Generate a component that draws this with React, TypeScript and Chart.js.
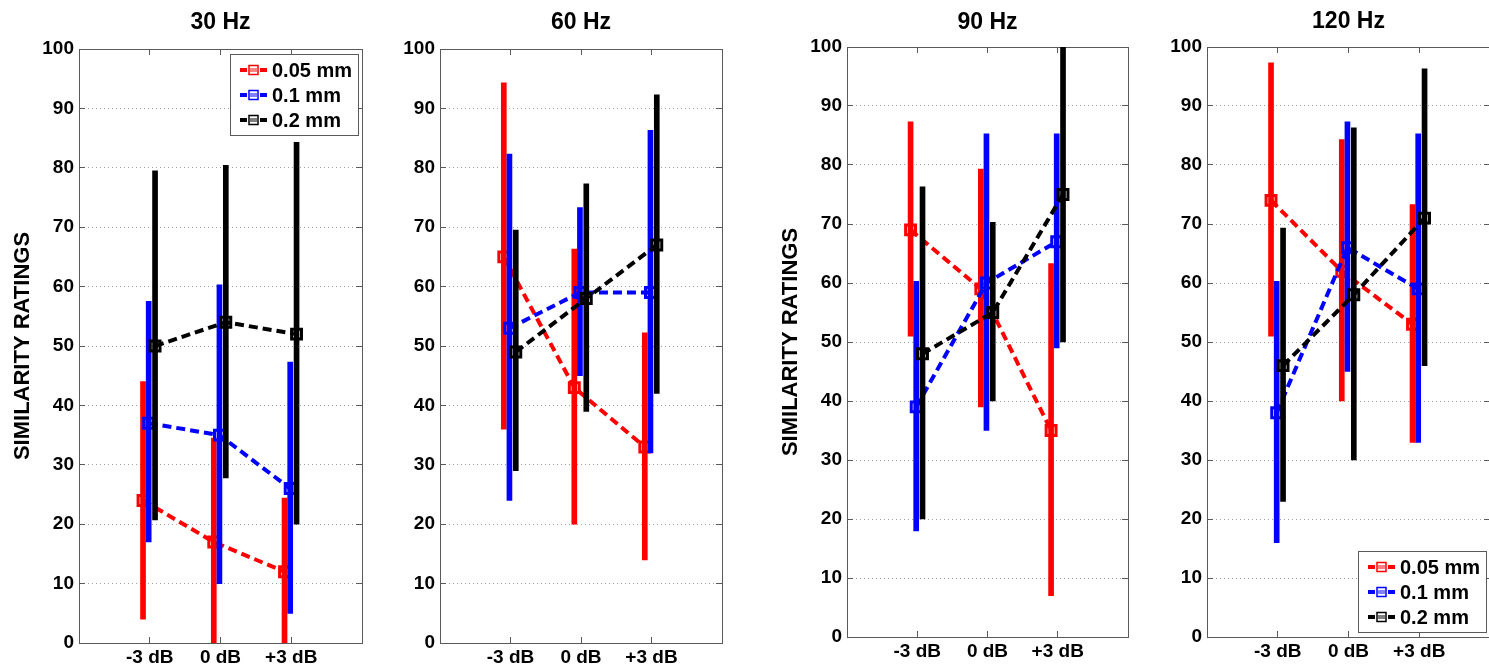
import React, { useEffect, useRef } from 'react';
import { Chart, registerables } from 'chart.js';

Chart.register(...registerables);

const FONT = '"Liberation Sans", Arial, Helvetica, sans-serif';
Chart.defaults.font.family = FONT;

// ---- data ----
const xLabels = ['-3 dB', '0 dB', '+3 dB'];
const categoryPos = [1, 2, 3];
const seriesNames = ['0.05 mm', '0.1 mm', '0.2 mm'];
const seriesColors = ['#ff0000', '#0000ff', '#000000'];
const seriesOffsets = [-0.095, -0.015, 0.075];
const panelTitles = ['30 Hz', '60 Hz', '90 Hz', '120 Hz'];
const yTicksStep = 10;
const yTitle = 'SIMILARITY RATINGS';

// means per series [0.05 mm, 0.1 mm, 0.2 mm] at [-3 dB, 0 dB, +3 dB]
const mean30 = [[24, 17, 12], [37, 35, 26], [50, 54, 52]];
const low30 = [[4, -0.5, -0.4], [17, 10, 5], [20.7, 27.8, 20]];
const high30 = [[44, 34.5, 24.4], [57.5, 60.3, 47.3], [79.5, 80.4, 84.3]];

const mean60 = [[65, 43, 33], [53, 59, 59], [49, 58, 67]];
const low60 = [[36, 20, 14], [24, 45, 32], [29, 39, 42]];
const high60 = [[94.3, 66.3, 52.2], [82.3, 73.3, 86.3], [69.5, 77.3, 92.3]];

const mean90 = [[69, 59, 35], [39, 60, 67], [48, 55, 75]];
const low90 = [[51, 39, 7], [18, 35, 49], [20, 40, 50]];
const high90 = [[87.3, 79.3, 63.3], [60.3, 85.3, 85.3], [76.3, 70.3, 100.5]];

const mean120 = [[74, 62, 53], [38, 66, 59], [46, 58, 71]];
const low120 = [[51, 40, 33], [16, 45, 33], [23, 30, 46]];
const high120 = [[97.3, 84.3, 73.3], [60.3, 87.3, 85.3], [69.3, 86.3, 96.3]];

const panelMeans = [mean30, mean60, mean90, mean120];
const panelLows = [low30, low60, low90, low120];
const panelHighs = [high30, high60, high90, high120];

// ---- layout ----
const canvasLeft = [0, 372, 768, 1138];
const canvasWidth = [372, 360, 370, 362];
const leftAxisW = [79, 68, 79, 69];
const rightAxisW = [6, 6, 5, 5];
const chartTop = [49, 49, 47, 47];
const bottomAxisH = [23, 23, 29, 29];
const titlePadTop = [9, 9, 8.7, 7.7];
const showYTitle = [true, false, true, false];
const legendCorner = ['topRight', '', '', 'bottomRight'];
const CANVAS_H = 666;
const frameColor = '#5a5a5a';

const boxLegendPlugin = {
  id: 'boxLegend',
  afterDraw(chart: any, _args: any, opts: any) {
    if (!opts || !opts.corner) return;
    const ctx = chart.ctx;
    const area = chart.chartArea;
    const items = chart.data.datasets.filter((d: any) => d.type === 'line');
    ctx.save();
    ctx.font = `bold 20px ${FONT}`;
    const textW = Math.max(...items.map((d: any) => ctx.measureText(d.label).width));
    const rowH = 25;
    const padL = 10, symW = 27, gap = 5, padR = 6;
    const w = Math.round(padL + symW + gap + textW + padR);
    const h = rowH * items.length + 6;
    const x0 = Math.round(area.right - 4 - w);
    const y0 = Math.round(opts.corner === 'topRight' ? area.top + 5 : area.bottom - 5 - h);
    ctx.fillStyle = '#ffffff';
    ctx.fillRect(x0, y0, w, h);
    ctx.strokeStyle = frameColor;
    ctx.lineWidth = 1;
    ctx.strokeRect(x0 + 0.5, y0 + 0.5, w, h);
    items.forEach((d: any, i: number) => {
      const cy = y0 + 16 + i * rowH;
      ctx.strokeStyle = d.borderColor;
      ctx.lineWidth = 4;
      ctx.setLineDash([7, 3]);
      ctx.beginPath();
      ctx.moveTo(x0 + padL, cy);
      ctx.lineTo(x0 + padL + symW, cy);
      ctx.stroke();
      ctx.setLineDash([]);
      ctx.lineWidth = 1.5;
      ctx.fillStyle = 'rgba(255,255,255,0.5)';
      ctx.fillRect(x0 + padL + symW / 2 - 4.5, cy - 4.5, 9, 9);
      ctx.strokeRect(x0 + padL + symW / 2 - 4.5, cy - 4.5, 9, 9);
      ctx.fillStyle = '#000';
      ctx.textBaseline = 'middle';
      ctx.textAlign = 'left';
      ctx.fillText(d.label, x0 + padL + symW + gap, cy + 1);
    });
    ctx.restore();
  },
};

function Panel({ idx }: { idx: number }) {
  const ref = useRef<HTMLCanvasElement>(null);
  useEffect(() => {
    const canvas = ref.current;
    if (!canvas) return;
    const means = panelMeans[idx];
    const lows = panelLows[idx];
    const highs = panelHighs[idx];
    const datasets: any[] = [];
    seriesNames.forEach((name, s) => {
      datasets.push({
        type: 'bar',
        label: name + ' range',
        data: categoryPos.map((c, k) => ({ x: c + seriesOffsets[s], y: [lows[s][k], highs[s][k]] })),
        backgroundColor: seriesColors[s],
        borderWidth: 0,
        barThickness: 5,
        grouped: false,
        clip: 0,
        order: 6 - 2 * s,
      });
      datasets.push({
        type: 'line',
        label: name,
        data: categoryPos.map((c, k) => ({ x: c + seriesOffsets[s], y: means[s][k] })),
        borderColor: seriesColors[s],
        borderWidth: 4,
        borderDash: [9, 5],
        pointStyle: 'rect',
        pointRadius: 7,
        pointBorderWidth: 3,
        pointBackgroundColor: 'rgba(0,0,0,0)',
        pointBorderColor: seriesColors[s],
        fill: false,
        tension: 0,
        order: 5 - 2 * s,
      });
    });

    const xTickGrid = {
      drawOnChartArea: false,
      drawTicks: true,
      tickLength: -6,
      tickColor: frameColor,
      tickWidth: 1,
      offset: false,
    };

    const chart = new Chart(canvas, {
      type: 'line',
      data: { datasets },
      plugins: [boxLegendPlugin],
      options: {
        animation: false,
        responsive: false,
        devicePixelRatio: 1,
        layout: { padding: 0 },
        plugins: {
          legend: { display: false },
          tooltip: { enabled: false },
          title: { display: false },
          boxLegend: { corner: legendCorner[idx] },
        } as any,
        scales: {
          x: {
            type: 'linear',
            position: 'bottom',
            min: 0,
            max: 4,
            offset: false,
            afterBuildTicks: (ax: any) => {
              ax.ticks = categoryPos.map((v) => ({ value: v }));
            },
            afterFit: (ax: any) => {
              ax.height = bottomAxisH[idx];
            },
            ticks: {
              callback: (v: any) => {
                const i = categoryPos.indexOf(Number(v));
                return i >= 0 ? xLabels[i] : '';
              },
              font: { size: 19, weight: 'bold' },
              color: '#000',
              padding: 9,
              maxRotation: 0,
              autoSkip: false,
            },
            grid: xTickGrid,
            border: { display: true, color: frameColor, width: 1 },
          },
          xTop: {
            type: 'linear',
            position: 'top',
            min: 0,
            max: 4,
            offset: false,
            afterBuildTicks: (ax: any) => {
              ax.ticks = categoryPos.map((v) => ({ value: v }));
            },
            afterFit: (ax: any) => {
              ax.height = chartTop[idx];
            },
            ticks: { display: false },
            grid: xTickGrid,
            border: { display: true, color: frameColor, width: 1 },
            title: {
              display: true,
              text: panelTitles[idx],
              font: { size: 23, weight: 'bold' },
              color: '#000',
              padding: { top: titlePadTop[idx], bottom: 0 },
            },
          },
          y: {
            type: 'linear',
            position: 'left',
            min: 0,
            max: 100,
            afterFit: (ax: any) => {
              ax.width = leftAxisW[idx];
            },
            ticks: {
              stepSize: yTicksStep,
              font: { size: 19, weight: 'bold' },
              color: '#000',
              padding: 11,
            },
            grid: {
              drawOnChartArea: true,
              color: '#a0a0a0',
              lineWidth: 1,
              drawTicks: true,
              tickLength: -6,
              tickColor: frameColor,
              tickWidth: 1,
            },
            border: { display: true, color: frameColor, width: 1, dash: [1, 3] },
            title: {
              display: showYTitle[idx],
              text: yTitle,
              font: { size: 22, weight: 'bold' },
              color: '#000',
              padding: { top: 9.8, bottom: 0 },
            },
          },
          yRight: {
            type: 'linear',
            position: 'right',
            min: 0,
            max: 100,
            afterFit: (ax: any) => {
              ax.width = rightAxisW[idx];
            },
            ticks: { display: false, stepSize: yTicksStep },
            grid: {
              drawOnChartArea: false,
              drawTicks: true,
              tickLength: -6,
              tickColor: frameColor,
              tickWidth: 1,
            },
            border: { display: true, color: frameColor, width: 1 },
          },
        } as any,
      },
    } as any);
    return () => chart.destroy();
  }, [idx]);

  return (
    <canvas
      ref={ref}
      width={canvasWidth[idx]}
      height={CANVAS_H}
      style={{
        position: 'absolute',
        left: canvasLeft[idx],
        top: 0,
        width: canvasWidth[idx],
        height: CANVAS_H,
      }}
    />
  );
}

export default function App() {
  return (
    <div
      style={{
        position: 'absolute',
        left: 0,
        top: 0,
        width: 1489,
        height: 666,
        overflow: 'hidden',
        background: '#ffffff',
      }}
    >
      {panelTitles.map((_, i) => (
        <Panel key={i} idx={i} />
      ))}
    </div>
  );
}
